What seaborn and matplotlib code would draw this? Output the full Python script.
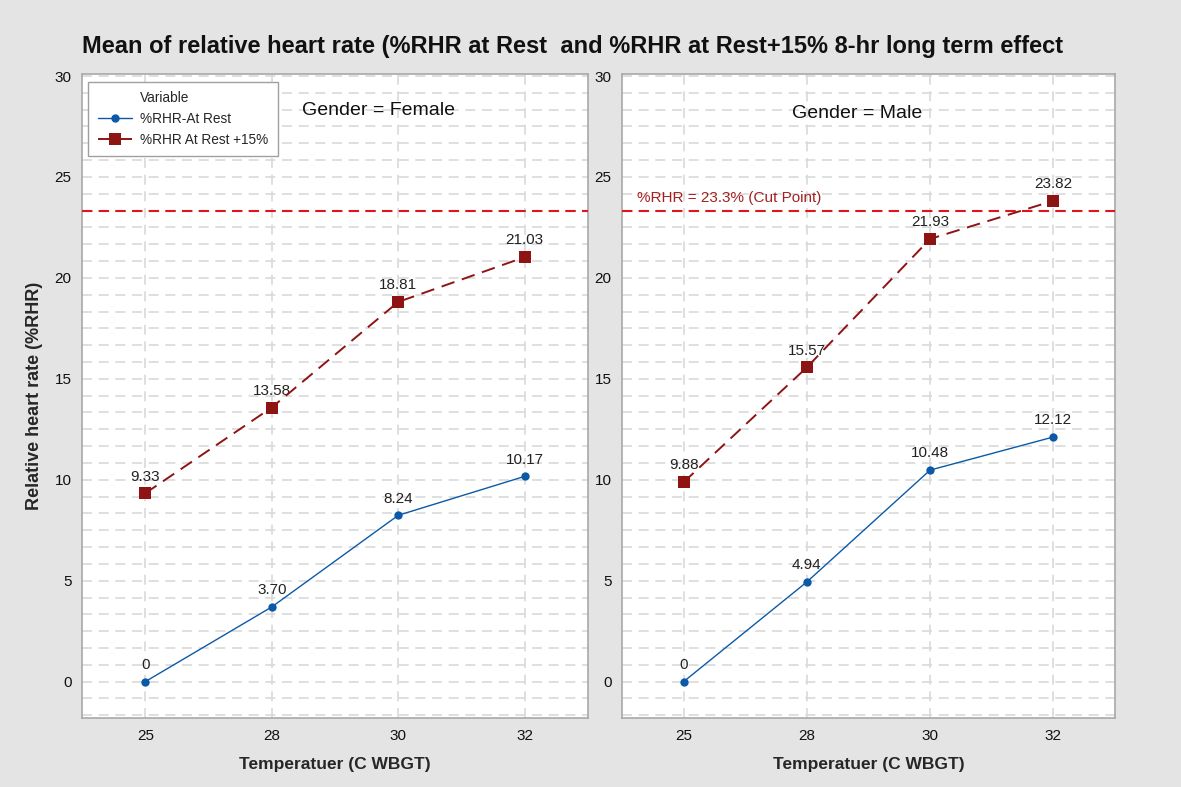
import numpy as np
import pandas as pd
import matplotlib
matplotlib.use("Agg")
import matplotlib.pyplot as plt
from matplotlib.lines import Line2D
from matplotlib.ticker import MultipleLocator
import seaborn as sns

# data
temperatures = ["25", "28", "30", "32"]
genders = ["Female", "Male"]
rest_female = [0.0, 3.70, 8.24, 10.17]
plus15_female = [9.33, 13.58, 18.81, 21.03]
rest_male = [0.0, 4.94, 10.48, 12.12]
plus15_male = [9.88, 15.57, 21.93, 23.82]
series_names = ["%RHR-At Rest", "%RHR At Rest +15%"]
cut_point = 23.3

values = {
    ("Female", series_names[0]): rest_female,
    ("Female", series_names[1]): plus15_female,
    ("Male", series_names[0]): rest_male,
    ("Male", series_names[1]): plus15_male,
}
rows = []
for (g, s), vals in values.items():
    for t, v in zip(temperatures, vals):
        rows.append({"Gender": g, "Variable": s, "Temp": t, "Value": v})
df = pd.DataFrame(rows)

sns.set_style("white")
plt.rcParams["font.family"] = ["Liberation Sans", "DejaVu Sans"]

BG = "#e4e4e4"
GRID = "#d9d9d9"
SPINE = "#a8a8a8"
BLUE = "#0b5aa8"
DARKRED = "#8e1414"
CUTRED = "#e0141b"

styles = {
    series_names[0]: dict(color=BLUE, marker="o", linestyle="-", linewidth=1.0, markersize=6),
    series_names[1]: dict(color=DARKRED, marker="s", linestyle=(0, (7, 4)), linewidth=1.4, markersize=9),
}
# panel label positions (axes fraction)
panel_pos = {"Female": (0.585, 0.944), "Male": (0.477, 0.938)}

fig = plt.figure(figsize=(11.81, 7.87), dpi=100, facecolor=BG)
axes = [
    fig.add_axes([82 / 1181, 69 / 787, 506 / 1181, 644 / 787]),
    fig.add_axes([622 / 1181, 69 / 787, 493 / 1181, 644 / 787]),
]


def fmt(v):
    return "0" if v == 0 else f"{v:.2f}"


for ax, g in zip(axes, genders):
    ax.set_facecolor("white")
    for s in series_names:
        sub = df[(df.Gender == g) & (df.Variable == s)]
        st = styles[s]
        sns.pointplot(data=sub, x="Temp", y="Value", order=temperatures, errorbar=None,
                      color=st["color"], marker=st["marker"], linestyle=st["linestyle"],
                      linewidth=st["linewidth"], markersize=st["markersize"],
                      markeredgewidth=0, ax=ax, label=s, zorder=4)
        for i, v in enumerate(sub["Value"]):
            ax.annotate(fmt(v), (i, v), xytext=(0, 7), textcoords="offset points",
                        ha="center", va="bottom", fontsize=11, color="#222222")

    ax.axhline(cut_point, color=CUTRED, linestyle=(0, (5, 3)), linewidth=1.5, zorder=3)

    ax.set_xlim(-0.5, 3.5)
    ax.set_ylim(-1.8, 30.1)
    ax.yaxis.set_major_locator(MultipleLocator(5))
    ax.yaxis.set_minor_locator(MultipleLocator(5 / 6))
    ax.grid(True, which="both", axis="y", color=GRID, linestyle=(0, (6, 4)), linewidth=1.2, zorder=0)
    ax.grid(True, which="major", axis="x", color=GRID, linestyle=(0, (6, 4)), linewidth=1.2, zorder=0)
    ax.set_axisbelow(True)
    for sp in ax.spines.values():
        sp.set_color(SPINE)
        sp.set_linewidth(1.2)
    ax.tick_params(axis="y", which="major", length=4, color=SPINE, labelsize=11, labelcolor="#111111")
    ax.tick_params(axis="y", which="minor", length=0)
    ax.tick_params(axis="x", length=0, labelsize=11, labelcolor="#111111", pad=8)
    ax.set_xlabel("Temperatuer (C WBGT)", fontsize=12.5, fontweight="bold", labelpad=10)
    ax.set_ylabel("")
    px, py = panel_pos[g]
    ax.text(px, py, f"Gender = {g}", transform=ax.transAxes, ha="center", va="center",
            fontsize=14, color="#111111")
    if ax.get_legend() is not None:
        ax.get_legend().remove()

axes[0].set_ylabel("Relative heart rate (%RHR)", fontsize=13, fontweight="bold", labelpad=8)

axes[1].text(0.03, cut_point + 0.3, f"%RHR = {cut_point}% (Cut Point)", transform=axes[1].get_yaxis_transform(),
             ha="left", va="bottom", fontsize=11, color="#a52020")

handles, labels = axes[0].get_legend_handles_labels()
blank = Line2D([], [], linestyle="none", marker="none")
leg = axes[0].legend([blank] + handles[:2], ["Variable"] + labels[:2], loc="upper left",
                     bbox_to_anchor=(0.012, 0.988), borderaxespad=0, fontsize=9.8,
                     frameon=True, fancybox=False, edgecolor="#a0a0a0", framealpha=1,
                     handlelength=2.5, handletextpad=0.6, borderpad=0.7, labelspacing=0.5)
leg.get_frame().set_linewidth(1.0)

fig.suptitle("Mean of relative heart rate (%RHR at Rest  and %RHR at Rest+15% 8-hr long term effect",
             x=0.485, y=0.955, fontsize=17, fontweight="bold", color="#111111")

fig.savefig("out.png", dpi=100, facecolor=BG)
